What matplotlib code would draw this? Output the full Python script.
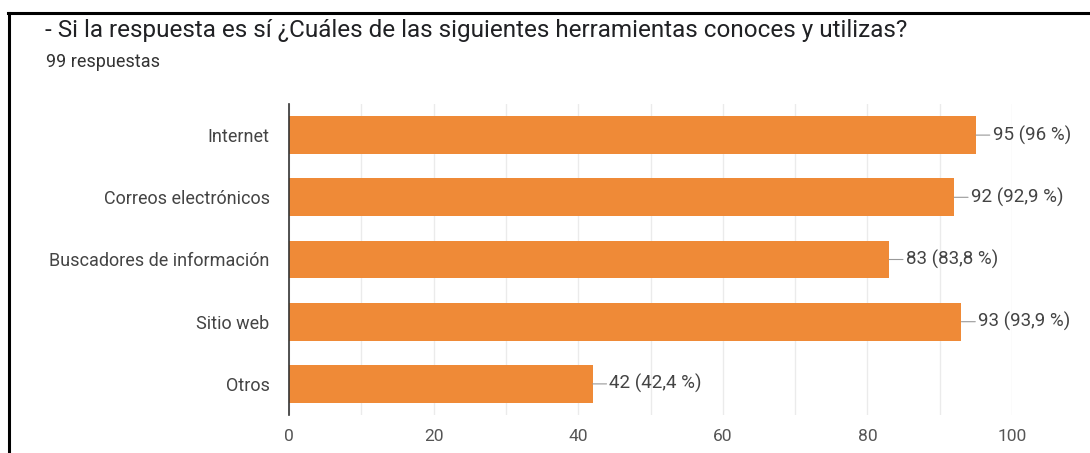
import matplotlib.pyplot as plt
from matplotlib.lines import Line2D

# Survey answers (Google Forms style)
categories = ["Internet", "Correos electrónicos", "Buscadores de información", "Sitio web", "Otros"]
counts = [95, 92, 83, 93, 42]
percents = ["96", "92,9", "83,8", "93,9", "42,4"]
xticks = [0, 20, 40, 60, 80, 100]

TITLE = "- Si la respuesta es sí ¿Cuáles de las siguientes herramientas conoces y utilizas?"
SUBTITLE = "99 respuestas"

BAR_COLOR = "#ef8a37"
TEXT_COLOR = "#444444"

plt.rcParams['font.family'] = ['Roboto', 'DejaVu Sans']

fig = plt.figure(figsize=(10.9, 4.53), dpi=100)
ax = fig.add_axes([289/1090, 1 - 415/453, 723/1090, 311/453])

y = list(range(len(categories)))
ax.barh(y, counts, height=0.61, color=BAR_COLOR, zorder=3)

for yi, c, p in zip(y, counts, percents):
    ax.annotate(f"{c} ({p} %)", xy=(c, yi), xytext=(12, 0), textcoords="offset points",
                va="center", ha="left", fontsize=13.5, color=TEXT_COLOR,
                arrowprops=dict(arrowstyle="-", color="#999999", lw=0.8,
                                shrinkA=0, shrinkB=0))

ax.set_ylim(len(categories) - 0.5, -0.5)
ax.set_xlim(0, 100)
ax.set_yticks(y)
ax.set_yticklabels(categories, fontsize=13, color=TEXT_COLOR)
ax.set_xticks(xticks)
ax.set_xticklabels([str(t) for t in xticks], fontsize=12.5, color="#555555")
ax.set_xticks(range(0, 101, 10), minor=True)
ax.tick_params(axis="both", which="both", length=0)
ax.tick_params(axis="y", pad=14)
ax.tick_params(axis="x", pad=10)
ax.grid(axis="x", which="both", color="#ebebeb", lw=1, zorder=0)

for s in ["top", "right", "bottom"]:
    ax.spines[s].set_visible(False)
ax.spines["left"].set_color("#333333")
ax.spines["left"].set_linewidth(1.2)
ax.spines["left"].set_zorder(4)

fig.text(45/1090, 1 - 30/453, TITLE, fontsize=17.5, color="#202124", va="center", ha="left")
fig.text(46/1090, 1 - 62/453, SUBTITLE, fontsize=13, color="#333333", va="center", ha="left")

# black frame from the screenshot crop
fig.add_artist(Line2D([8/1090, 1], [1 - 13/453, 1 - 13/453], color="black", lw=2.2))
fig.add_artist(Line2D([9/1090, 9/1090], [0, 1 - 13/453], color="black", lw=2.2))

fig.savefig("out.png", dpi=100)
